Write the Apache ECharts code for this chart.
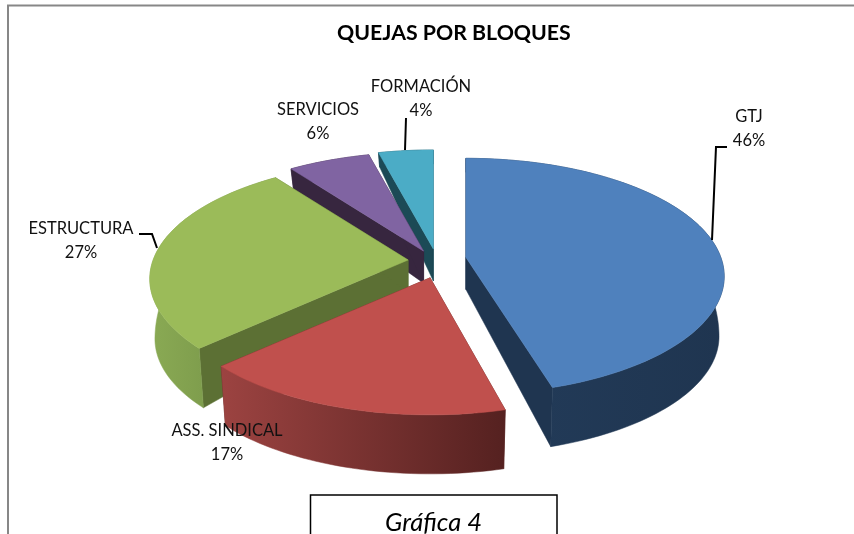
<!DOCTYPE html>
<html>
<head>
<meta charset="utf-8">
<style>html,body{margin:0;padding:0;background:#fff}#c{width:854px;height:534px}</style>
<script src="https://cdn.jsdelivr.net/npm/echarts@6/dist/echarts.min.js"></script>
</head>
<body>
<div id="c"></div>
<script>
// ---- data ----
var categories = ['GTJ', 'ASS. SINDICAL', 'ESTRUCTURA', 'SERVICIOS', 'FORMACIÓN'];
var values = [46, 17, 27, 6, 4];
var chartTitle = 'QUEJAS POR BLOQUES';
var captionText = 'Gráfica 4';

// ---- styles ----
var topColors = ['#4f81bd', '#c0504d', '#9bbb59', '#8064a2', '#4bacc6'];
var radialColors = ['#1f3550', '#5a2523', '#5c7034', '#37263f', '#1c4a56'];
var wallStops = [
  ['#233c5a', '#1f3550'],
  ['#9c4341', '#552120'],
  ['#8aaa54', '#6f8c43'],
  ['#37263f', '#37263f'],
  ['#1c4a56', '#1c4a56']
];
var fontFamily = 'Lato, "Open Sans", sans-serif';

// ---- layout of the tilted disc ----
var centerX = 434, centerY = 260;
var radiusX = 255, radiusY = 115, perspective = 0.161;
var explode = [0.114, 0.125, 0.094, 0.114, 0.114];
var nudgeX = [3, 5, -2, 2, 3];
var nudgeY = [-1, 4, 1, 3, 2];
var endTrimDeg = [2.3, 0, 0, 0, 0];
var drawOrder = [4, 5, 3, 2, 1];      // back slices first
var apexDepth = 32, bottomShrink = 0.98;
var rimDepthY = [-1, -0.9, -0.8, 0, 0.15, 1];
var rimDepthPx = [14, 15, 23, 52, 60, 59];
var labelCenters = [[749, 129], [227, 443], [81, 241], [318, 122], [421, 99]];

function rimDepth(y) {
  for (var i = 1; i < rimDepthY.length; i++) {
    if (y <= rimDepthY[i]) {
      var t = (y - rimDepthY[i - 1]) / (rimDepthY[i] - rimDepthY[i - 1]);
      return rimDepthPx[i - 1] + t * (rimDepthPx[i] - rimDepthPx[i - 1]);
    }
  }
  return rimDepthPx[rimDepthPx.length - 1];
}

function sliceGeometry(index) {
  var total = values.reduce(function (a, b) { return a + b; }, 0);
  var before = values.slice(0, index).reduce(function (a, b) { return a + b; }, 0);
  var start = before / total * 360;
  var end = (before + values[index]) / total * 360;
  var mid = (start + end) / 2 * Math.PI / 180;
  var apex = [
    centerX + nudgeX[index] + explode[index] * radiusX * Math.sin(mid),
    centerY + nudgeY[index] - explode[index] * radiusY * Math.cos(mid)
  ];
  var top = [], bottom = [];
  var last = end - endTrimDeg[index];
  var steps = Math.max(4, Math.ceil((last - start) / 1.5));
  for (var i = 0; i <= steps; i++) {
    var a = (start + (last - start) * i / steps) * Math.PI / 180;
    var x = Math.sin(a), y = -Math.cos(a);
    var s = 1 / (1 - perspective * y);
    var px = x * radiusX * s, py = y * radiusY * s;
    top.push([apex[0] + px, apex[1] + py]);
    bottom.push([apex[0] + px * bottomShrink, apex[1] + py + rimDepth(y)]);
  }
  return { apex: apex, top: top, bottom: bottom };
}

function poly(points, fill, z2) {
  return {
    type: 'polygon',
    shape: { points: points },
    style: { fill: fill, stroke: fill, lineWidth: 0.5 },
    z2: z2
  };
}

function renderSlice(params) {
  var i = params.dataIndex;
  var g = sliceGeometry(i);
  var base = drawOrder[i] * 10;
  var apexLow = [g.apex[0], g.apex[1] + apexDepth];
  var n = g.top.length - 1;
  var wallFill = new echarts.graphic.LinearGradient(0, 0, 1, 0, [
    { offset: 0, color: wallStops[i][0] },
    { offset: 1, color: wallStops[i][1] }
  ]);
  return {
    type: 'group',
    children: [
      poly([g.apex, g.top[0], g.bottom[0], apexLow], radialColors[i], base),
      poly([g.apex, g.top[n], g.bottom[n], apexLow], radialColors[i], base + 1),
      poly(g.top.concat(g.bottom.slice().reverse()), wallFill, base + 2),
      poly([g.apex].concat(g.top), topColors[i], base + 3)
    ]
  };
}

var total = values.reduce(function (a, b) { return a + b; }, 0);

function labelGraphic(i) {
  return {
    type: 'text',
    x: labelCenters[i][0],
    y: labelCenters[i][1],
    z: 20,
    style: {
      text: categories[i] + '\n' + Math.round(values[i] / total * 100) + '%',
      font: '16.5px ' + fontFamily,
      fill: '#111',
      align: 'center',
      verticalAlign: 'middle',
      lineHeight: 24
    }
  };
}

function leader(points) {
  return {
    type: 'polyline',
    z: 19,
    shape: { points: points },
    style: { stroke: '#000', lineWidth: 2, fill: 'none' }
  };
}

var frameColor = '#878787';
var graphics = [
  { type: 'polyline', z: 1, shape: { points: [[8, 534], [8, 5.5], [854, 5.5]] },
    style: { stroke: frameColor, lineWidth: 2, fill: 'none' } },
  { type: 'polyline', z: 25, shape: { points: [[310.5, 540], [310.5, 495], [557, 495], [557, 540]] },
    style: { stroke: '#000', lineWidth: 1.5, fill: '#fff' } },
  { type: 'text', x: 433.5, y: 523, z: 26,
    style: { text: captionText, font: 'italic 25.5px ' + fontFamily, fill: '#000',
      align: 'center', verticalAlign: 'middle' } },
  leader([[727, 147], [716, 147], [712, 240]]),
  leader([[406, 118], [405, 150]]),
  leader([[139, 234], [152, 234], [157, 248]])
].concat(categories.map(function (c, i) { return labelGraphic(i); }));

var chart = echarts.init(document.getElementById('c'), null, { renderer: 'canvas' });
chart.setOption({
  animation: false,
  backgroundColor: '#ffffff',
  series: [{
    type: 'custom',
    coordinateSystem: 'none',
    silent: true,
    renderItem: renderSlice,
    data: categories.map(function (c, i) { return { name: c, value: values[i] }; })
  }],
  title: {
    text: chartTitle,
    left: 332,
    top: 18,
    textStyle: { fontFamily: fontFamily, fontSize: 21.3, fontWeight: 'bold', color: '#000' }
  },
  graphic: { elements: graphics }
});
</script>
</body>
</html>
